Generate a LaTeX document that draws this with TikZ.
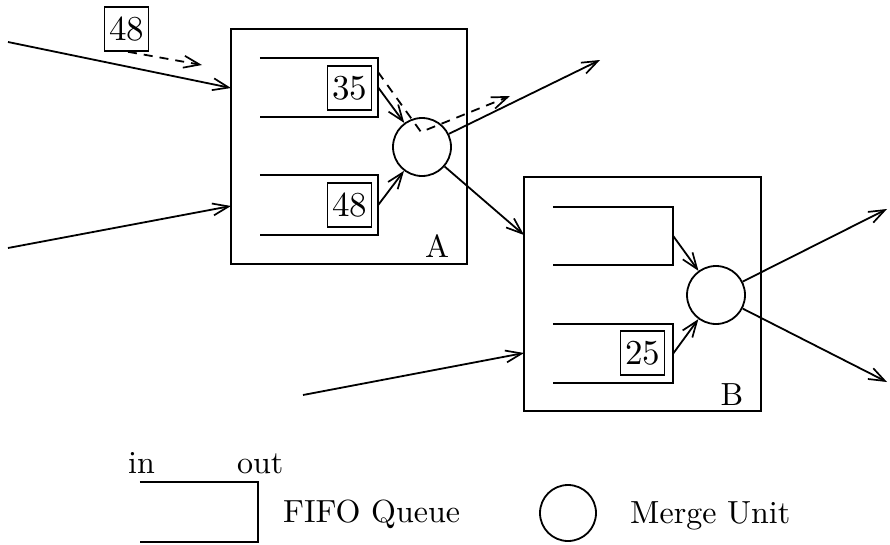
\documentclass[tikz,border=0pt]{standalone}
\usepackage{fontspec}
\setmainfont{lmroman10-regular.otf}
\usetikzlibrary{arrows.meta}
\begin{document}
\begin{tikzpicture}[x=1pt,y=-1pt,
  font=\fontsize{32}{38}\selectfont,
  ln/.style={line width=1.8pt},
  arr/.style={ln, -{Straight Barb[length=16pt,width=12pt,line width=1.7pt]}},
  flow/.style={arr, dash pattern=on 9pt off 7pt},
  frame/.style={draw, line width=1.8pt, inner sep=0pt},
  token/.style={draw, line width=1.6pt, minimum width=44pt, minimum height=44pt, inner sep=0pt,
    font=\fontsize{35}{40}\selectfont},
  merge/.style={circle, draw, line width=1.8pt, minimum size=58pt, inner sep=0pt},
  qslot/.style={inner sep=0pt, minimum width=118pt, minimum height=59pt},
  lbl/.style={inner sep=0pt, anchor=base}
]
\useasboundingbox (0,0) rectangle (890,544);

% processing elements
\node[frame, minimum width=236pt, minimum height=235pt] (boxA) at (349,146.5) {};
\node[frame, minimum width=237pt, minimum height=234pt] (boxB) at (642.5,294) {};
\node[lbl] (labA) at (437,257) {A};
\node[lbl] (labB) at (732,405) {B};

% FIFO queues (open on the input side)
\node[qslot] (qa1) at (319,87.5) {};
\node[qslot] (qa2) at (319,205) {};
\node[qslot, minimum width=120pt, minimum height=58pt] (qb1) at (613,236) {};
\node[qslot, minimum width=120pt] (qb2) at (613,353.5) {};
\foreach \q in {qa1,qa2,qb1,qb2}
  \draw[ln] (\q.north west) -| (\q.south east) -- (\q.south west);

% merge units
\node[merge] (ma) at (422,147) {};
\node[merge] (mb) at (716,295) {};

% tokens
\node[token] (t35) at (349.5,88) {35};
\node[token] (t48a) at (349.5,205) {48};
\node[token] (t25) at (642.5,353) {25};
\node[token] (t48) at (126.5,29) {48};

% free ends of the connectors
\coordinate (srcA1) at (8,42);
\coordinate (inA1) at (231,88);
\coordinate (srcA2) at (8,248);
\coordinate (inA2) at (231,206);
\coordinate (outA) at (600,60);
\coordinate (inB1) at (524,235);
\coordinate (srcB) at (303,395);
\coordinate (inB2) at (524,353);
\coordinate (outB1) at (887,209);
\coordinate (outB2) at (887,382);

% links
\draw[arr] (srcA1) -- (inA1);
\draw[arr] (srcA2) -- (inA2);
\draw[arr] (qa1.east) -- (ma);
\draw[arr] (qa2.east) -- (ma);
\draw[arr] (ma) -- (outA);
\draw[arr] (ma) -- (inB1);
\draw[arr] (srcB) -- (inB2);
\draw[arr] (qb1.east) -- (mb);
\draw[arr] (qb2.east) -- (mb);
\draw[arr] (mb) -- (outB1);
\draw[arr] (mb) -- (outB2);

% token movements
\coordinate (t48to) at (202,65);
\coordinate (t35from) at (378,72);
\coordinate (t35via) at (421,132);
\coordinate (t35to) at (510,96);
\draw[flow] ([xshift=1.5pt]t48.south) -- (t48to);
\draw[flow] (t35from) -- (t35via) -- (t35to);

% legend
\node[lbl, anchor=base west] (lin) at (128,473) {in};
\node[lbl, anchor=base west] (lout) at (237,473) {out};
\node[qslot] (lq) at (199,512) {};
\draw[ln] (lq.north west) -| (lq.south east) -- (lq.south west);
\node[lbl, anchor=base west] (lfifo) at (283,522) {FIFO Queue};
\node[merge, minimum size=56pt] (lm) at (568,513) {};
\node[lbl, anchor=base west] (lmerge) at (630,523) {Merge Unit};
\end{tikzpicture}
\end{document}
